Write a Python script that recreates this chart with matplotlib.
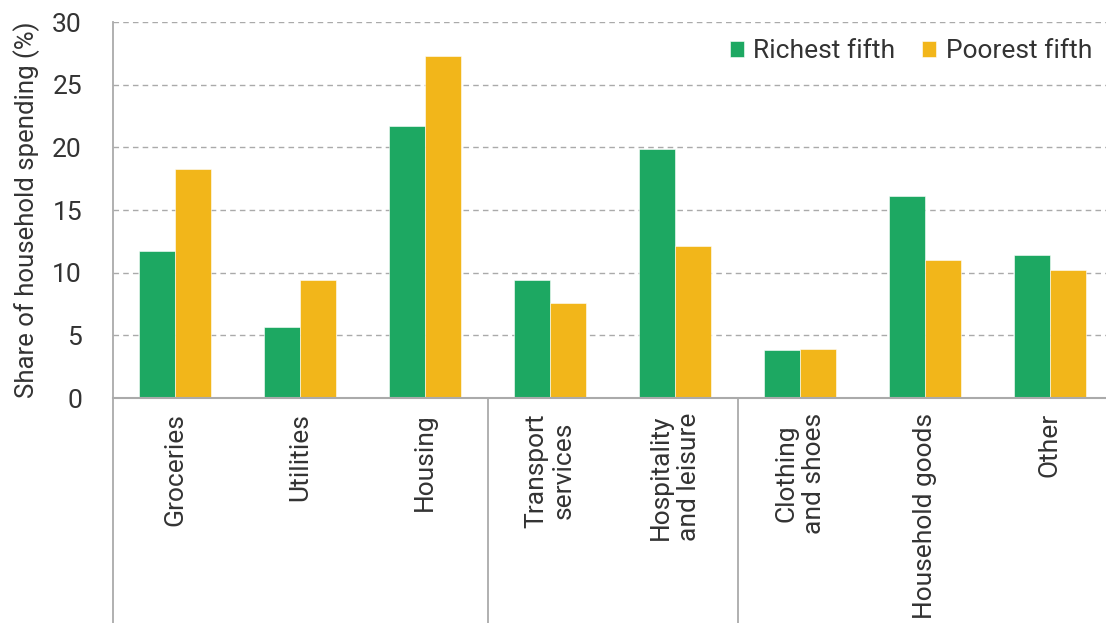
import numpy as np
import matplotlib.pyplot as plt
import matplotlib.transforms as mtransforms

plt.rcParams['font.family'] = ['Roboto', 'DejaVu Sans']

categories = ["Groceries", "Utilities", "Housing", "Transport\nservices",
              "Hospitality\nand leisure", "Clothing\nand shoes", "Household goods", "Other"]
richest = [11.7, 5.7, 21.7, 9.4, 19.9, 3.8, 16.1, 11.4]
poorest = [18.3, 9.4, 27.3, 7.6, 12.1, 3.9, 11.0, 10.2]
group_breaks = [2.5, 4.5]

green = '#1da862'
yellow = '#f2b61a'
text_col = '#333333'
line_col = '#aaaaaa'

fig = plt.figure(figsize=(11.06, 6.23), dpi=100)
ax = fig.add_axes([112.5/1106, 225/623, 1000/1106, 376/623])

x = np.arange(len(categories))
w = 0.285
ax.bar(x - w/2, richest, width=w, color=green, label='Richest fifth', zorder=3,
       edgecolor='white', linewidth=0.4)
ax.bar(x + w/2, poorest, width=w, color=yellow, label='Poorest fifth', zorder=3,
       edgecolor='white', linewidth=0.4)

ax.set_xlim(-0.5, 7.5)
ax.set_ylim(0, 30)
ax.set_yticks(range(0, 31, 5))
ax.yaxis.grid(True, linestyle=(0, (4, 3)), color='#aaaaaa', linewidth=1, zorder=0)
ax.tick_params(axis='y', length=0, pad=22, labelsize=19, labelcolor=text_col)
ax.set_xticks([])

for s in ['top', 'right']:
    ax.spines[s].set_visible(False)
ax.spines['left'].set_visible(False)
ax.spines['bottom'].set_color(line_col)
ax.spines['bottom'].set_linewidth(1.5)
ax.spines['bottom'].set_zorder(4)

trans = mtransforms.blended_transform_factory(ax.transData, ax.transAxes)
for xb in [-0.5] + group_breaks:
    ax.plot([xb, xb], [1 if xb < 0 else 0, -0.62], color=line_col, lw=1.3,
            transform=trans, clip_on=False, zorder=4)

for xi, lab in zip(x, categories):
    ax.text(xi, -0.04, lab, transform=trans, rotation=90, ha='center', va='top',
            multialignment='center', fontsize=19, color=text_col)

ax.set_ylabel('Share of household spending (%)', fontsize=18.5, color=text_col, labelpad=9)

leg = ax.legend(loc='center right', bbox_to_anchor=(0.99, 0.923), ncol=2, frameon=False,
                fontsize=19, handlelength=0.55, handleheight=0.55, handletextpad=0.35,
                columnspacing=1.0, labelcolor=text_col, borderaxespad=0)

fig.savefig('out.png', dpi=100)
